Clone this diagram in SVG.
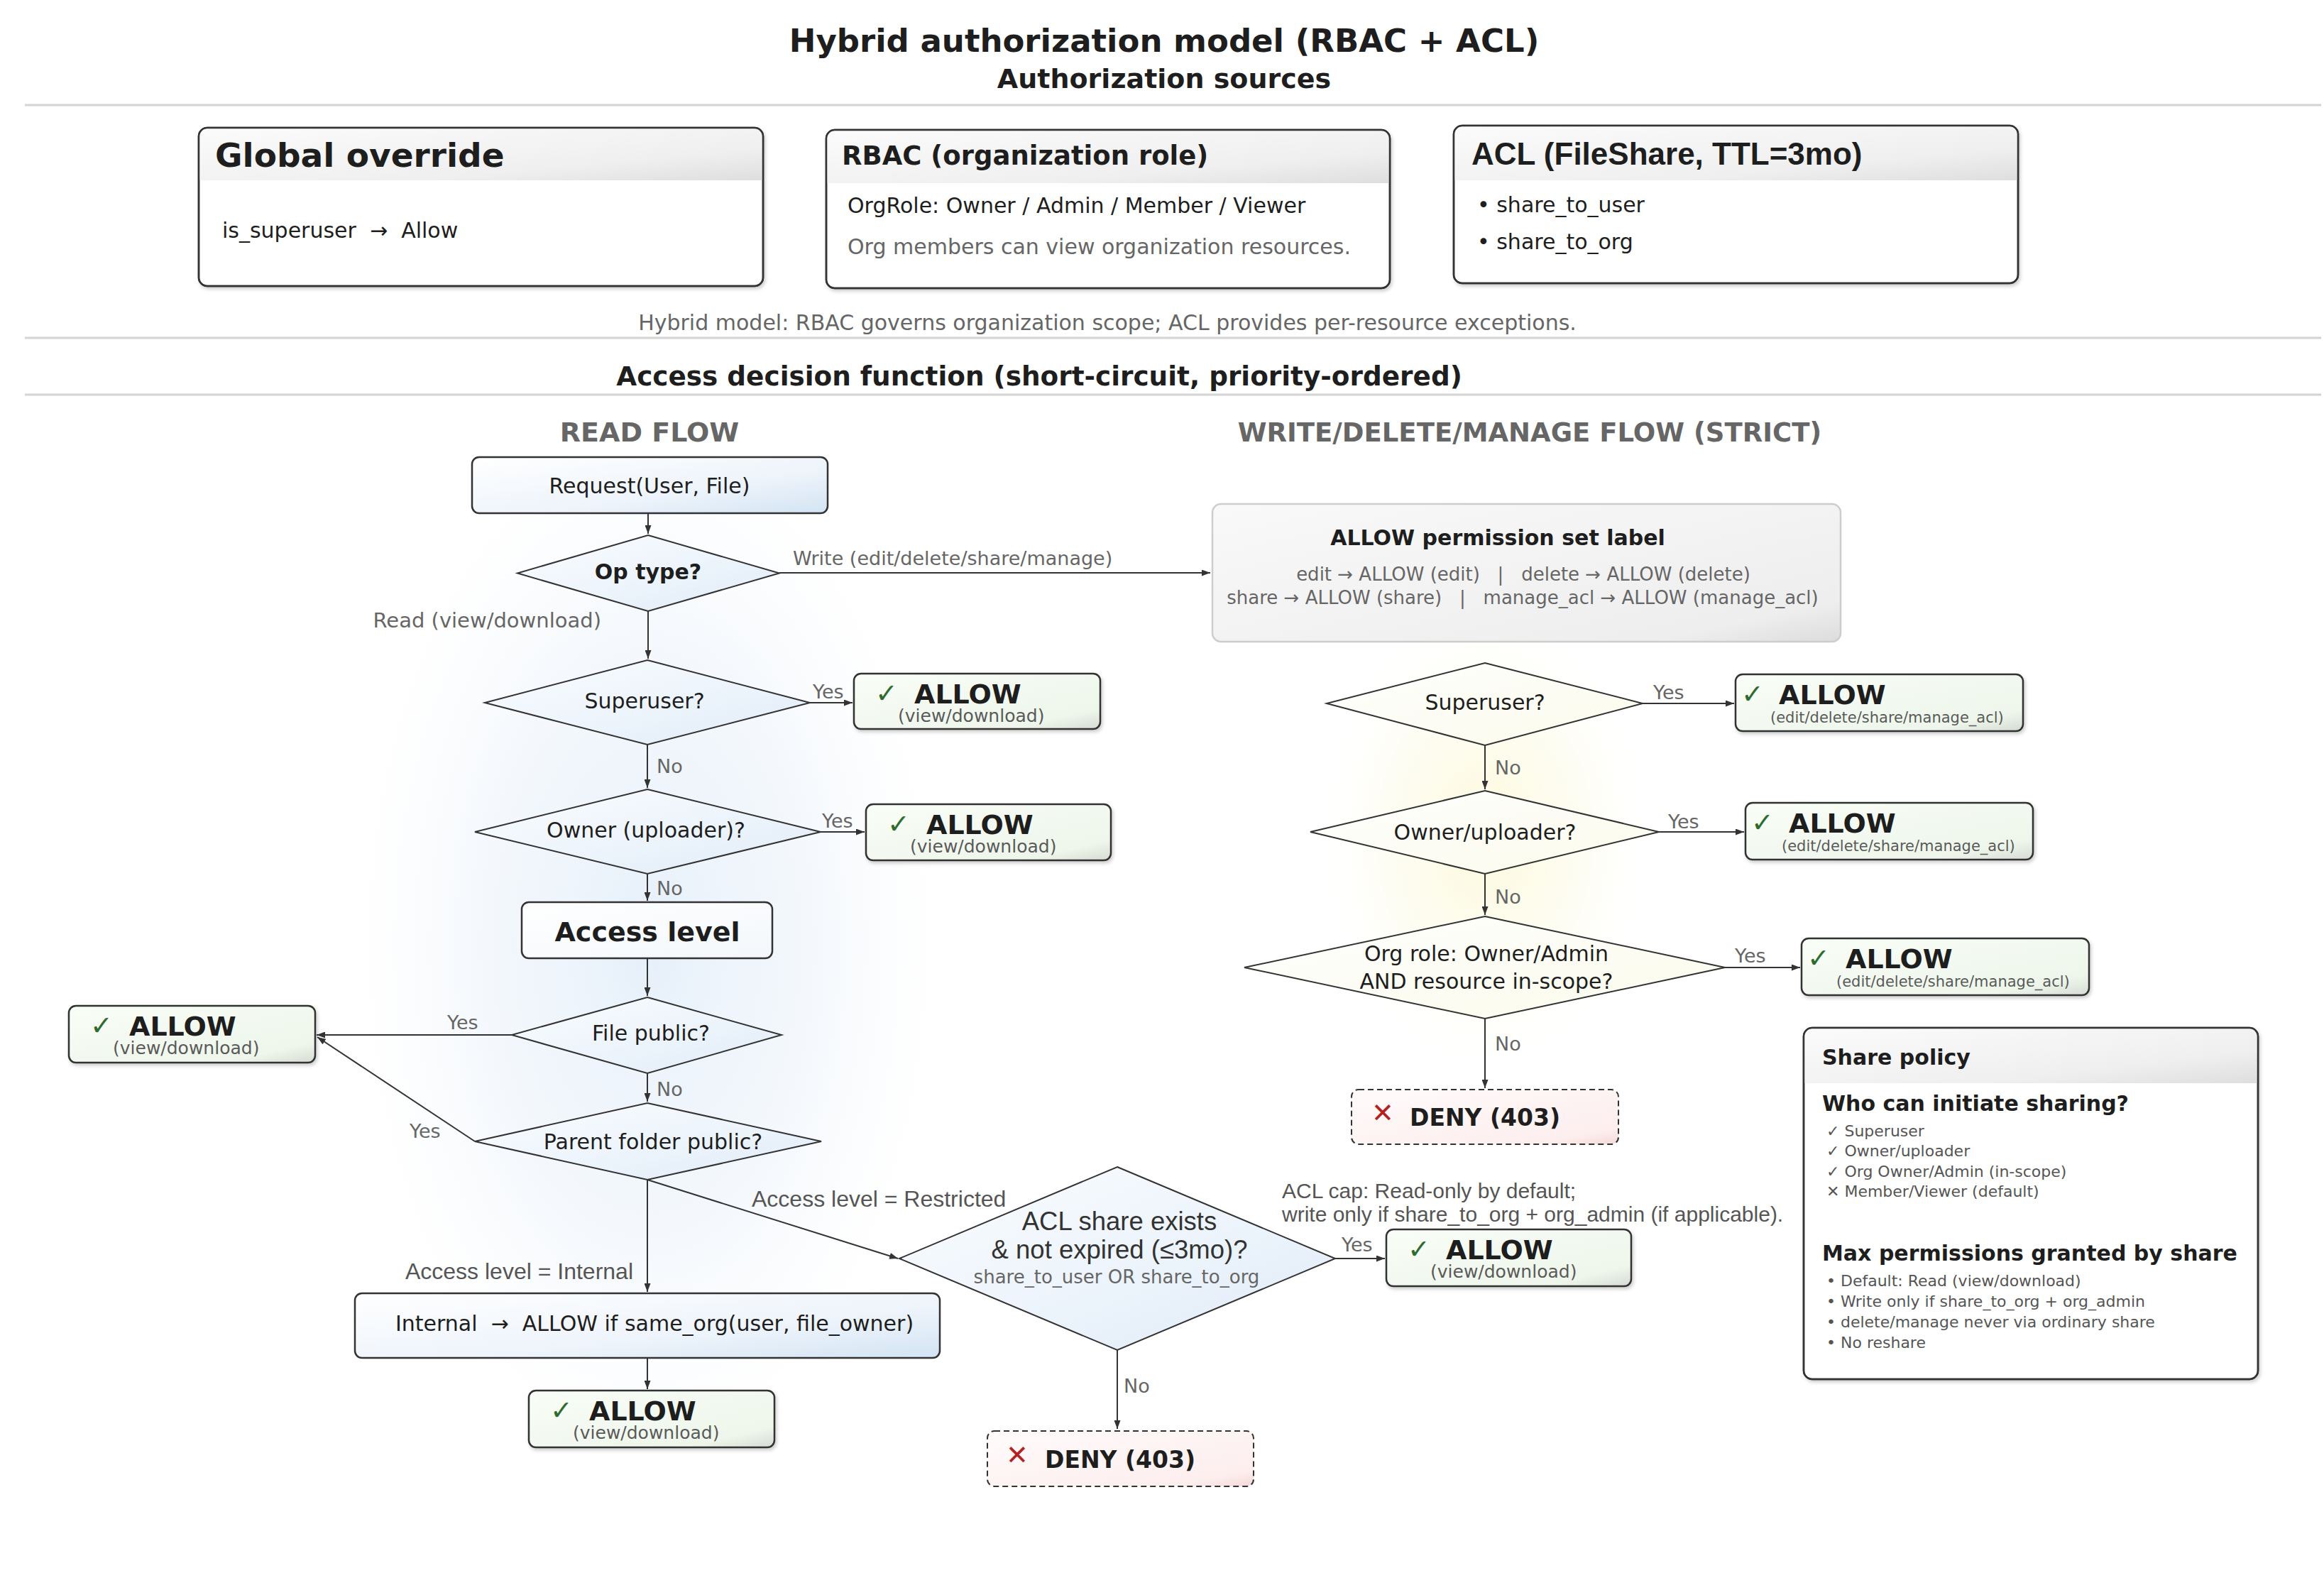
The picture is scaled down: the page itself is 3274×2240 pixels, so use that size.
<svg xmlns="http://www.w3.org/2000/svg" width="3274" height="2240" viewBox="0 0 3274 2240">
<defs>
<style>
text{font-family:"DejaVu Sans",sans-serif;fill:#1e1e1e}
.b{font-weight:bold}
.lab{font-size:27px;fill:#666}
.ar{font-family:"Liberation Sans",Arial,sans-serif}
.dia{stroke:#333;stroke-width:2}
.box{stroke:#333;stroke-width:2.5}
.sep{stroke:#d4d4d4;stroke-width:3}
.con{stroke:#333;stroke-width:2;fill:none;marker-end:url(#ah)}
.chk{font-size:38px;fill:#2e6b2e}
.al{font-size:38px;font-weight:bold;fill:#1e1e1e}
.sub{fill:#5a5a5a}
.x{font-size:38px;fill:#b22222}
.pt{font-size:22px;fill:#555}
</style>
<marker id="ah" markerUnits="userSpaceOnUse" markerWidth="12" markerHeight="9" refX="12" refY="4.5" orient="auto"><path d="M0,0 L12,4.5 L0,9 z" fill="#333"/></marker>
<linearGradient id="gBlue" x1="0" y1="0" x2="1" y2="1"><stop offset="0" stop-color="#ffffff"/><stop offset="0.6" stop-color="#eef4fb"/><stop offset="1" stop-color="#d3e4f3"/></linearGradient>
<linearGradient id="gDia" x1="0" y1="0" x2="1" y2="1"><stop offset="0" stop-color="#fbfdff"/><stop offset="1" stop-color="#e0ecf8"/></linearGradient>
<linearGradient id="gYel" x1="0" y1="0" x2="1" y2="1"><stop offset="0" stop-color="#ffffff"/><stop offset="1" stop-color="#fafaea"/></linearGradient>
<linearGradient id="gGreen" x1="0" y1="0" x2="1" y2="1"><stop offset="0" stop-color="#f9fdf7"/><stop offset="0.82" stop-color="#eef6eb"/><stop offset="1" stop-color="#d6dbd3"/></linearGradient>
<linearGradient id="gRed" x1="0" y1="0" x2="1" y2="1"><stop offset="0" stop-color="#fffbfb"/><stop offset="0.85" stop-color="#fdeeee"/><stop offset="1" stop-color="#f5d8d8"/></linearGradient>
<linearGradient id="gGray" x1="0" y1="0" x2="1" y2="1"><stop offset="0" stop-color="#f9f9f9"/><stop offset="0.85" stop-color="#eeeeee"/><stop offset="1" stop-color="#dcdcdc"/></linearGradient>
<linearGradient id="gHead" x1="0" y1="0" x2="1" y2="1"><stop offset="0" stop-color="#fbfbfb"/><stop offset="0.7" stop-color="#efefef"/><stop offset="1" stop-color="#dedede"/></linearGradient>
<linearGradient id="gWhite" x1="0" y1="0" x2="1" y2="1"><stop offset="0" stop-color="#ffffff"/><stop offset="1" stop-color="#f3f7fb"/></linearGradient>
<radialGradient id="glowB" cx="0.5" cy="0.5" r="0.5"><stop offset="0" stop-color="#e1edf9" stop-opacity="0.85"/><stop offset="0.55" stop-color="#ebf2fa" stop-opacity="0.5"/><stop offset="1" stop-color="#ffffff" stop-opacity="0"/></radialGradient>
<radialGradient id="glowY" cx="0.5" cy="0.5" r="0.5"><stop offset="0" stop-color="#fbf8d4" stop-opacity="0.85"/><stop offset="0.6" stop-color="#fdfbe6" stop-opacity="0.45"/><stop offset="1" stop-color="#ffffff" stop-opacity="0"/></radialGradient>
<filter id="sh" x="-5%" y="-10%" width="115%" height="135%"><feDropShadow dx="2" dy="3" stdDeviation="2.5" flood-color="#000" flood-opacity="0.2"/></filter>
</defs>
<rect width="3274" height="2240" fill="#ffffff"/>
<g id="glows">
<ellipse cx="912" cy="1330" rx="450" ry="790" fill="url(#glowB)"/>
<ellipse cx="2092" cy="1180" rx="240" ry="340" fill="url(#glowY)"/>
</g>
<g id="headers">
<text x="1640" y="73" text-anchor="middle" class="b" font-size="45">Hybrid authorization model (RBAC + ACL)</text>
<text x="1640" y="124" text-anchor="middle" class="b" font-size="38">Authorization sources</text>
<line class="sep" x1="35" y1="148" x2="3270" y2="148"/>
<text x="1560" y="465" text-anchor="middle" font-size="30" style="fill:#666">Hybrid model: RBAC governs organization scope; ACL provides per-resource exceptions.</text>
<line class="sep" x1="35" y1="476" x2="3270" y2="476"/>
<text x="1464" y="543" text-anchor="middle" class="b" font-size="37.4">Access decision function (short-circuit, priority-ordered)</text>
<line class="sep" x1="35" y1="556" x2="3270" y2="556"/>
<text x="915" y="622" text-anchor="middle" class="b" font-size="38" style="fill:#666">READ FLOW</text>
<text x="2155" y="622" text-anchor="middle" class="b" font-size="37" style="fill:#666">WRITE/DELETE/MANAGE FLOW (STRICT)</text>
</g>
<g id="global-override">
<rect x="280" y="180" width="795" height="223" rx="12" fill="#fff" class="box" filter="url(#sh)"/>
<path d="M281,254 V192 Q281,181 292,181 H1063 Q1074,181 1074,192 V254 Z" fill="url(#gHead)"/>
<rect x="280" y="180" width="795" height="223" rx="12" fill="none" class="box"/>
<text x="303" y="235" class="b" font-size="47">Global override</text>
<text x="313" y="335" font-size="30" xml:space="preserve">is_superuser  →  Allow</text>
</g>
<g id="rbac">
<rect x="1164" y="183" width="794" height="223" rx="12" fill="#fff" class="box" filter="url(#sh)"/>
<path d="M1165,258 V195 Q1165,184 1176,184 H1946 Q1957,184 1957,195 V258 Z" fill="url(#gHead)"/>
<rect x="1164" y="183" width="794" height="223" rx="12" fill="none" class="box"/>
<text x="1186" y="232" class="b" font-size="37">RBAC (organization role)</text>
<text x="1194" y="300" font-size="30">OrgRole: Owner / Admin / Member / Viewer</text>
<text x="1194" y="358" font-size="30" style="fill:#666">Org members can view organization resources.</text>
</g>
<g id="acl">
<rect x="2048" y="177" width="795" height="222" rx="12" fill="#fff" class="box" filter="url(#sh)"/>
<path d="M2049,254 V189 Q2049,178 2060,178 H2831 Q2842,178 2842,189 V254 Z" fill="url(#gHead)"/>
<rect x="2048" y="177" width="795" height="222" rx="12" fill="none" class="box"/>
<text x="2073" y="232" class="b ar" font-size="44">ACL (FileShare, TTL=3mo)</text>
<text x="2081" y="299" font-size="30">• share_to_user</text>
<text x="2081" y="351" font-size="30">• share_to_org</text>
</g>
<g id="request">
<rect x="665" y="644" width="501" height="79" rx="10" fill="url(#gBlue)" class="box"/>
<text x="915" y="695" text-anchor="middle" font-size="30">Request(User, File)</text>
</g>
<g id="op-type">
<polygon points="913,754 1098,807.5 913,861 729,807.5" fill="url(#gDia)" class="dia"/>
<text x="913" y="816" text-anchor="middle" class="b" font-size="30">Op type?</text>
</g>
<g id="perm-set">
<rect x="1708" y="710" width="885" height="194" rx="12" fill="url(#gGray)" stroke="#cdcdcd" stroke-width="2.5"/>
<text x="2110" y="768" text-anchor="middle" class="b" font-size="30">ALLOW permission set label</text>
<text x="2146" y="818" text-anchor="middle" font-size="26" style="fill:#666" xml:space="preserve">edit → ALLOW (edit)   |   delete → ALLOW (delete)</text>
<text x="2145" y="851" text-anchor="middle" font-size="26" style="fill:#666" xml:space="preserve">share → ALLOW (share)   |   manage_acl → ALLOW (manage_acl)</text>
</g>
<g id="r-superuser">
<polygon points="912,930 1141,990 912,1049 683,990" fill="url(#gDia)" class="dia"/>
<text x="908" y="998" text-anchor="middle" font-size="30">Superuser?</text>
</g>
<g id="r-owner">
<polygon points="912,1112 1156,1172 912,1231 669,1172" fill="url(#gDia)" class="dia"/>
<text x="910" y="1180" text-anchor="middle" font-size="30">Owner (uploader)?</text>
</g>
<g id="access-level">
<rect x="735" y="1271" width="353" height="79" rx="10" fill="url(#gWhite)" class="box"/>
<text x="912" y="1326" text-anchor="middle" class="b" font-size="38">Access level</text>
</g>
<g id="file-public">
<polygon points="912,1405 1101,1458 912,1512 721,1458" fill="url(#gDia)" class="dia"/>
<text x="917" y="1466" text-anchor="middle" font-size="30">File public?</text>
</g>
<g id="parent-public">
<polygon points="912,1554 1157,1608 912,1662 669,1608" fill="url(#gDia)" class="dia"/>
<text x="920" y="1619" text-anchor="middle" font-size="30">Parent folder public?</text>
</g>
<g id="internal">
<rect x="500" y="1822" width="824" height="91" rx="10" fill="url(#gBlue)" class="box"/>
<text x="922" y="1875" text-anchor="middle" font-size="30" xml:space="preserve">Internal  →  ALLOW if same_org(user, file_owner)</text>
</g>
<g id="acl-share">
<polygon points="1574,1644 1881,1773 1574,1902 1267,1773" fill="url(#gDia)" class="dia"/>
<text x="1577" y="1733" text-anchor="middle" class="ar" font-size="36.5" style="fill:#333">ACL share exists</text>
<text x="1577" y="1773" text-anchor="middle" class="ar" font-size="36.5" style="fill:#333">&amp; not expired (≤3mo)?</text>
<text x="1573" y="1808" text-anchor="middle" font-size="26" style="fill:#666">share_to_user OR share_to_org</text>
</g>
<g id="allow-r1" transform="translate(1203,949)">
<rect width="347" height="78" rx="10" fill="url(#gGreen)" class="box" filter="url(#sh)"/>
<text x="30" y="41" class="chk">✓</text><text x="85" y="42" class="al">ALLOW</text>
<text x="62" y="68" class="sub" font-size="25">(view/download)</text>
</g>
<g id="allow-r2" transform="translate(1220,1133)">
<rect width="345" height="79" rx="10" fill="url(#gGreen)" class="box" filter="url(#sh)"/>
<text x="30" y="41" class="chk">✓</text><text x="85" y="42" class="al">ALLOW</text>
<text x="62" y="68" class="sub" font-size="25">(view/download)</text>
</g>
<g id="allow-r3" transform="translate(97,1417)">
<rect width="347" height="80" rx="10" fill="url(#gGreen)" class="box" filter="url(#sh)"/>
<text x="30" y="41" class="chk">✓</text><text x="85" y="42" class="al">ALLOW</text>
<text x="62" y="68" class="sub" font-size="25">(view/download)</text>
</g>
<g id="allow-r4" transform="translate(745,1959)">
<rect width="346" height="80" rx="10" fill="url(#gGreen)" class="box" filter="url(#sh)"/>
<text x="30" y="41" class="chk">✓</text><text x="85" y="42" class="al">ALLOW</text>
<text x="62" y="68" class="sub" font-size="25">(view/download)</text>
</g>
<g id="allow-acl" transform="translate(1953,1732)">
<rect width="345" height="80" rx="10" fill="url(#gGreen)" class="box" filter="url(#sh)"/>
<text x="30" y="41" class="chk">✓</text><text x="84" y="42" class="al">ALLOW</text>
<text x="62" y="68" class="sub" font-size="25">(view/download)</text>
</g>
<g id="deny-r" transform="translate(1391,2016)">
<rect width="375" height="78" rx="10" fill="url(#gRed)" stroke="#333" stroke-width="2" stroke-dasharray="8 5"/>
<text x="26" y="47" class="x">✕</text>
<text x="81" y="52" class="b" font-size="33">DENY (403)</text>
</g>
<g id="w-superuser">
<polygon points="2092,934 2314,991 2092,1050 1869,991" fill="url(#gYel)" class="dia"/>
<text x="2092" y="1000" text-anchor="middle" font-size="30">Superuser?</text>
</g>
<g id="w-owner">
<polygon points="2092,1114 2337,1172 2092,1231 1846,1172" fill="url(#gYel)" class="dia"/>
<text x="2092" y="1183" text-anchor="middle" font-size="30">Owner/uploader?</text>
</g>
<g id="w-orgrole">
<polygon points="2092,1291 2430,1363 2092,1435 1753,1363" fill="url(#gYel)" class="dia"/>
<text x="2094" y="1354" text-anchor="middle" font-size="30">Org role: Owner/Admin</text>
<text x="2094" y="1393" text-anchor="middle" font-size="30">AND resource in-scope?</text>
</g>
<g id="allow-w1" transform="translate(2445,950)">
<rect width="405" height="80" rx="10" fill="url(#gGreen)" class="box" filter="url(#sh)"/>
<text x="8" y="41" class="chk">✓</text><text x="61" y="42" class="al">ALLOW</text>
<text x="49" y="68" class="sub" font-size="21">(edit/delete/share/manage_acl)</text>
</g>
<g id="allow-w2" transform="translate(2459,1131)">
<rect width="405" height="80" rx="10" fill="url(#gGreen)" class="box" filter="url(#sh)"/>
<text x="8" y="41" class="chk">✓</text><text x="61" y="42" class="al">ALLOW</text>
<text x="51" y="68" class="sub" font-size="21">(edit/delete/share/manage_acl)</text>
</g>
<g id="allow-w3" transform="translate(2538,1322)">
<rect width="405" height="80" rx="10" fill="url(#gGreen)" class="box" filter="url(#sh)"/>
<text x="8" y="41" class="chk">✓</text><text x="62" y="42" class="al">ALLOW</text>
<text x="49" y="68" class="sub" font-size="21">(edit/delete/share/manage_acl)</text>
</g>
<g id="deny-w" transform="translate(1904,1535)">
<rect width="376" height="77" rx="10" fill="url(#gRed)" stroke="#333" stroke-width="2" stroke-dasharray="8 5"/>
<text x="28" y="46" class="x">✕</text>
<text x="82" y="51" class="b" font-size="33">DENY (403)</text>
</g>
<g id="acl-cap">
<text x="1806" y="1688" class="ar" font-size="30" style="fill:#555">ACL cap: Read-only by default;</text>
<text x="1806" y="1721" class="ar" font-size="30" style="fill:#555">write only if share_to_org + org_admin (if applicable).</text>
</g>
<g id="share-policy">
<rect x="2541" y="1448" width="640" height="495" rx="12" fill="#fff" class="box" filter="url(#sh)"/>
<path d="M2542,1526 V1460 Q2542,1449 2553,1449 H3169 Q3180,1449 3180,1460 V1526 Z" fill="url(#gHead)"/>
<rect x="2541" y="1448" width="640" height="495" rx="12" fill="none" class="box"/>
<text x="2567" y="1500" class="b" font-size="30">Share policy</text>
<text x="2567" y="1565" class="b" font-size="30">Who can initiate sharing?</text>
<text x="2573" y="1601" class="pt">✓ Superuser</text>
<text x="2573" y="1629" class="pt">✓ Owner/uploader</text>
<text x="2573" y="1658" class="pt">✓ Org Owner/Admin (in-scope)</text>
<text x="2573" y="1686" class="pt">✕ Member/Viewer (default)</text>
<text x="2567" y="1776" class="b" font-size="30">Max permissions granted by share</text>
<text x="2573" y="1812" class="pt">• Default: Read (view/download)</text>
<text x="2573" y="1841" class="pt">• Write only if share_to_org + org_admin</text>
<text x="2573" y="1870" class="pt">• delete/manage never via ordinary share</text>
<text x="2573" y="1899" class="pt">• No reshare</text>
</g>
<g id="connectors">
<path class="con" d="M913,724 V752"/>
<path class="con" d="M1098,807 H1705"/>
<path class="con" d="M913,861 V928"/>
<path class="con" d="M1141,990 H1201"/>
<path class="con" d="M912,1049 V1110"/>
<path class="con" d="M1156,1172 H1218"/>
<path class="con" d="M912,1231 V1269"/>
<path class="con" d="M912,1350 V1403"/>
<path class="con" d="M721,1458 H446"/>
<path class="con" d="M912,1512 V1552"/>
<path class="con" d="M669,1608 L447,1461"/>
<path class="con" d="M912,1662 V1820"/>
<path class="con" d="M912,1662 L1265,1773"/>
<path class="con" d="M912,1913 V1957"/>
<path class="con" d="M1881,1773 H1951"/>
<path class="con" d="M1574,1902 V2013"/>
<path class="con" d="M2314,991 H2443"/>
<path class="con" d="M2092,1050 V1112"/>
<path class="con" d="M2337,1172 H2457"/>
<path class="con" d="M2092,1231 V1289"/>
<path class="con" d="M2430,1363 H2536"/>
<path class="con" d="M2092,1435 V1533"/>
<text x="1117" y="796" class="lab" font-size="28">Write (edit/delete/share/manage)</text>
<text x="847" y="884" class="lab" text-anchor="end" style="font-size:29px">Read (view/download)</text>
<text x="1145" y="984" class="lab">Yes</text>
<text x="925" y="1089" class="lab">No</text>
<text x="1158" y="1166" class="lab">Yes</text>
<text x="925" y="1261" class="lab">No</text>
<text x="630" y="1450" class="lab">Yes</text>
<text x="925" y="1544" class="lab">No</text>
<text x="577" y="1603" class="lab">Yes</text>
<text x="892" y="1802" class="ar" text-anchor="end" font-size="32" style="fill:#555">Access level = Internal</text>
<text x="1059" y="1700" class="ar" font-size="32" style="fill:#555">Access level = Restricted</text>
<text x="1890" y="1763" class="lab">Yes</text>
<text x="1583" y="1962" class="lab">No</text>
<text x="2329" y="985" class="lab">Yes</text>
<text x="2106" y="1091" class="lab">No</text>
<text x="2350" y="1167" class="lab">Yes</text>
<text x="2106" y="1273" class="lab">No</text>
<text x="2444" y="1356" class="lab">Yes</text>
<text x="2106" y="1480" class="lab">No</text>
</g>
</svg>
